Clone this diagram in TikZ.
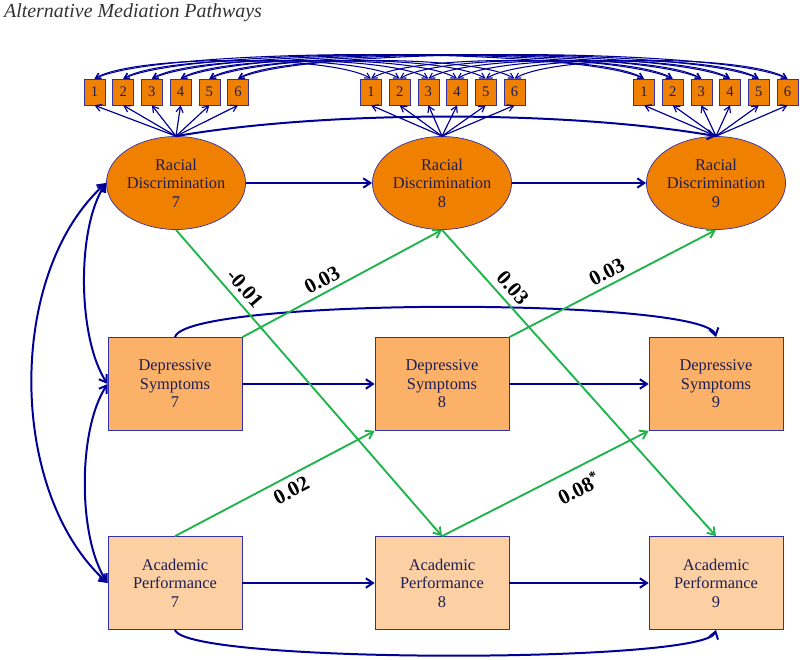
\documentclass[tikz,border=0pt]{standalone}
\usepackage{fontspec}
\setmainfont{Liberation Serif}
\usetikzlibrary{shapes.geometric,arrows.meta}

\definecolor{pathblue}{RGB}{0,0,150}
\definecolor{edgeline}{RGB}{50,50,165}
\definecolor{latent}{RGB}{240,128,0}
\definecolor{depr}{RGB}{251,178,104}
\definecolor{acad}{RGB}{252,208,162}
\definecolor{pathgreen}{RGB}{30,180,75}
\definecolor{labtext}{RGB}{30,30,85}

\begin{document}
\begin{tikzpicture}[x=0.03cm,y=0.03cm,
	latentnode/.style={ellipse,draw=edgeline,fill=latent,line width=0.6pt,minimum width=4.08cm,minimum height=2.79cm,inner sep=0pt,align=center,text=labtext,font=\fontsize{14}{15.8}\selectfont},
	obsbox/.style={rectangle,draw=edgeline,fill=#1,line width=0.6pt,minimum width=4.02cm,minimum height=2.79cm,align=center,text=labtext,font=\fontsize{14}{15.8}\selectfont},
	itembox/.style={rectangle,draw=edgeline,fill=latent,line width=0.5pt,minimum width=0.63cm,minimum height=0.78cm,inner sep=0pt,text=labtext,font=\fontsize{12.5}{14}\selectfont},
	regpath/.style={draw=pathblue,line width=1.7pt,-{Straight Barb[length=6pt,width=8pt]}},
	bicov/.style={draw=pathblue,line width=1.7pt,{Straight Barb[length=6pt,width=8pt]}-{Straight Barb[length=6pt,width=8pt]}},
	loading/.style={draw=pathblue,line width=1pt,-{Straight Barb[length=5pt,width=6pt]}},
	rescov/.style={draw=pathblue,line width=0.9pt,{Straight Barb[length=4.5pt,width=5pt]}-{Straight Barb[length=4.5pt,width=5pt]}},
	crosslag/.style={draw=pathgreen,line width=1.6pt,-{Straight Barb[length=6pt,width=8pt]}},
	coeflab/.style={font=\fontsize{18}{18}\selectfont\bfseries,text=black,sloped,inner sep=2pt}]
	\useasboundingbox (0,0) rectangle (800,-659);
	\node[anchor=west,font=\itshape\fontsize{17}{20}\selectfont,text=black!80] (title) at (0,-13) {Alternative Mediation Pathways};
	% latent racial discrimination
	\node[latentnode] (rd7) at (176,-183) {Racial\\Discrimination\\7};
	\node[latentnode] (rd8) at (442,-183) {Racial\\Discrimination\\8};
	\node[latentnode] (rd9) at (716,-183) {Racial\\Discrimination\\9};
	% observed
	\node[obsbox=depr] (ds7) at (175,-384) {Depressive\\Symptoms\\7};
	\node[obsbox=depr] (ds8) at (442,-384) {Depressive\\Symptoms\\8};
	\node[obsbox=depr] (ds9) at (716,-384) {Depressive\\Symptoms\\9};
	\node[obsbox=acad] (ap7) at (175,-583) {Academic\\Performance\\7};
	\node[obsbox=acad] (ap8) at (442,-583) {Academic\\Performance\\8};
	\node[obsbox=acad] (ap9) at (716,-583) {Academic\\Performance\\9};
	% indicators
	\foreach \tm/\x in {7/94.5,8/371,9/644}{
		\foreach \k in {1,...,6}{
			\node[itembox] (r\tm i\k) at ({\x+28.7*(\k-1)},-92) {\k};
			\draw[loading] (rd\tm.north) -- (r\tm i\k.south);
		}
	}
	\foreach \k in {1,...,6}{
		\draw[rescov] (r7i\k.north) .. controls +(40,24) and +(-40,24) .. (r8i\k.north);
		\draw[rescov] (r8i\k.north) .. controls +(40,24) and +(-40,24) .. (r9i\k.north);
		\draw[rescov] (r7i\k.north) .. controls +(70,32) and +(-70,32) .. (r9i\k.north);
	}
	% stability paths
	\draw[regpath] (rd7.east) -- (rd8.west);
	\draw[regpath] (rd8.east) -- (rd9.west);
	\draw[regpath] (ds7.east) -- (ds8.west);
	\draw[regpath] (ds8.east) -- (ds9.west);
	\draw[regpath] (ap7.east) -- (ap8.west);
	\draw[regpath] (ap8.east) -- (ap9.west);
	\draw[regpath] (rd7.north) .. controls +(150,26) and +(-150,26) .. (rd9.north);
	\draw[regpath] (ds7.north) .. controls +(10,40) and +(-10,40) .. (ds9.north);
	\draw[regpath] (ap7.south) .. controls +(10,-34) and +(-10,-34) .. (ap9.south);
	% correlations at 7
	\draw[bicov] (rd7.west) .. controls +(-30,-45) and +(-30,45) .. (ds7.west);
	\draw[bicov] (ds7.west) .. controls +(-30,-45) and +(-30,45) .. (ap7.west);
	\draw[bicov] (rd7.west) .. controls +(-100,-90) and +(-100,90) .. (ap7.west);
	% cross-lagged
	\draw[crosslag] (rd7.south) -- node[coeflab,pos=0.22,above=3pt]{-0.01} (ap8.north);
	\draw[crosslag] (ds7.north east) -- node[coeflab,pos=0.43,above=2pt]{0.03} (rd8.south);
	\draw[crosslag] (rd8.south) -- node[coeflab,pos=0.22,above=3pt]{0.03} (ap9.north);
	\draw[crosslag] (ds8.north east) -- node[coeflab,pos=0.5,above=2pt]{0.03} (rd9.south);
	\draw[crosslag] (ap7.north) -- node[coeflab,pos=0.55,below=3pt]{0.02} (ds8.south west);
	\draw[crosslag] (ap8.north) -- node[coeflab,pos=0.62,below=6pt]{0.08\textsuperscript{*}} (ds9.south west);
\end{tikzpicture}
\end{document}
